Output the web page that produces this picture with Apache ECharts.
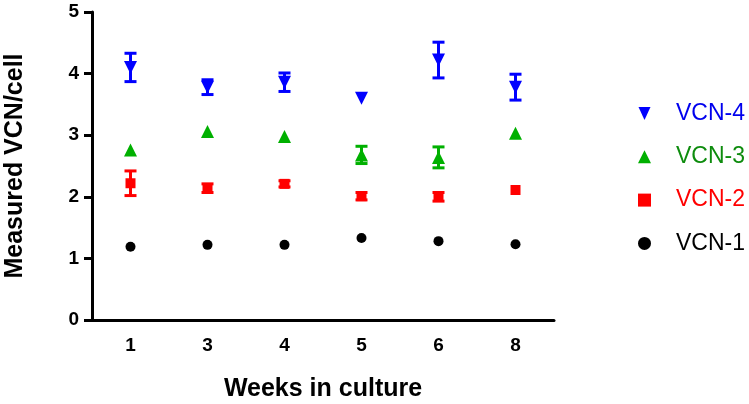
<!DOCTYPE html>
<html>
<head>
<meta charset="utf-8">
<script src="https://cdn.jsdelivr.net/npm/echarts@6/dist/echarts.min.js"></script>
<style>html,body{margin:0;padding:0;background:#fff}#c{width:749px;height:404px}</style>
</head>
<body>
<div id="c"></div>
<script>
var weeks = ['1', '3', '4', '5', '6', '8'];
var yTicks = [0, 1, 2, 3, 4, 5];
var vcn4 = [4.10, 3.78, 3.86, 3.60, 4.22, 3.78];
var vcn4Err = [0.23, 0.12, 0.15, 0.0, 0.29, 0.21];
var vcn3 = [2.76, 3.06, 2.98, 2.68, 2.64, 3.03];
var vcn3Err = [0.0, 0.0, 0.0, 0.14, 0.17, 0.0];
var vcn2 = [2.22, 2.14, 2.21, 2.01, 2.00, 2.11];
var vcn2Err = [0.20, 0.07, 0.05, 0.06, 0.07, 0.0];
var vcn1 = [1.19, 1.22, 1.22, 1.33, 1.28, 1.23];
var vcn1Err = [0, 0, 0, 0, 0, 0];

var FONT = 'Liberation Sans, Arial, sans-serif';
var DOWN_TRI = 'path://M0,0 L12,0 L6,13 Z';
var chart = echarts.init(document.getElementById('c'), null, {renderer: 'canvas'});

function errSeries(name, means, errs, color) {
  var data = means.map(function (m, i) { return [i, m - errs[i], m + errs[i]]; });
  return {
    type: 'custom',
    name: name + '-err',
    silent: true,
    z: 1,
    data: data,
    renderItem: function (params, api) {
      var lo = api.value(1), hi = api.value(2);
      if (hi - lo <= 0) return null;
      var p1 = api.coord([api.value(0), hi]);
      var p2 = api.coord([api.value(0), lo]);
      var hw = 6;
      var st = {stroke: color, lineWidth: 3, fill: null};
      return {
        type: 'group',
        children: [
          {type: 'line', shape: {x1: p1[0], y1: p1[1], x2: p2[0], y2: p2[1]}, style: st},
          {type: 'line', shape: {x1: p1[0] - hw, y1: p1[1], x2: p1[0] + hw, y2: p1[1]}, style: st},
          {type: 'line', shape: {x1: p2[0] - hw, y1: p2[1], x2: p2[0] + hw, y2: p2[1]}, style: st}
        ]
      };
    },
    encode: {x: 0, y: [1, 2]}
  };
}

var option = {
  backgroundColor: '#fff',
  animation: false,
  grid: {left: 92, right: 195, top: 12, bottom: 84, containLabel: false, outerBoundsMode: 'none'},
  legend: {
    orient: 'vertical',
    left: 633,
    top: 97,
    itemWidth: 13,
    itemHeight: 13,
    itemGap: 20.3,
    data: [
      {name: 'VCN-4', icon: DOWN_TRI, textStyle: {color: '#0000EE'}},
      {name: 'VCN-3', icon: 'triangle', textStyle: {color: '#0E8C0E'}},
      {name: 'VCN-2', icon: 'path://M0,0 L10,0 L10,10 L0,10 Z', textStyle: {color: '#FF0000'}},
      {name: 'VCN-1', icon: 'path://M5,0 A5,5 0 1 1 4.99,0 Z', textStyle: {color: '#000000'}}
    ],
    textStyle: {fontFamily: FONT, fontSize: 23, padding: [0, 0, 0, 20]}
  },
  xAxis: {
    type: 'category',
    data: weeks,
    boundaryGap: true,
    name: 'Weeks in culture',
    nameLocation: 'middle',
    nameGap: 57,
    nameTextStyle: {fontFamily: FONT, fontSize: 25, fontWeight: 'bold', color: '#000'},
    axisLine: {lineStyle: {color: '#000', width: 3}},
    axisTick: {alignWithLabel: true, length: 8, lineStyle: {color: '#000', width: 3}},
    axisLabel: {fontFamily: FONT, fontSize: 19, fontWeight: 'bold', color: '#000', margin: 16},
    splitLine: {show: false}
  },
  yAxis: {
    type: 'value',
    min: yTicks[0],
    max: yTicks[yTicks.length - 1],
    interval: 1,
    name: 'Measured VCN/cell',
    nameLocation: 'middle',
    nameGap: 64,
    nameTextStyle: {fontFamily: FONT, fontSize: 25, fontWeight: 'bold', color: '#000'},
    axisLine: {show: true, lineStyle: {color: '#000', width: 3}},
    axisTick: {show: true, length: 8, lineStyle: {color: '#000', width: 3}},
    axisLabel: {fontFamily: FONT, fontSize: 19, fontWeight: 'bold', color: '#000', margin: 13},
    splitLine: {show: false}
  },
  series: [
    errSeries('VCN-4', vcn4, vcn4Err, '#0000FF'),
    errSeries('VCN-3', vcn3, vcn3Err, '#00B000'),
    errSeries('VCN-2', vcn2, vcn2Err, '#FF0000'),
    errSeries('VCN-1', vcn1, vcn1Err, '#000000'),
    {type: 'scatter', name: 'VCN-4', data: vcn4, symbol: 'triangle', symbolRotate: 180, symbolSize: [13, 13], itemStyle: {color: '#0000FF', opacity: 1}, z: 3},
    {type: 'scatter', name: 'VCN-3', data: vcn3, symbol: 'triangle', symbolSize: [13, 13], itemStyle: {color: '#00B000', opacity: 1}, z: 3},
    {type: 'scatter', name: 'VCN-2', data: vcn2, symbol: 'rect', symbolSize: [10, 10], itemStyle: {color: '#FF0000', opacity: 1}, z: 3},
    {type: 'scatter', name: 'VCN-1', data: vcn1, symbol: 'circle', symbolSize: 10, itemStyle: {color: '#000000', opacity: 1}, z: 3}
  ]
};
chart.setOption(option);
</script>
</body>
</html>
